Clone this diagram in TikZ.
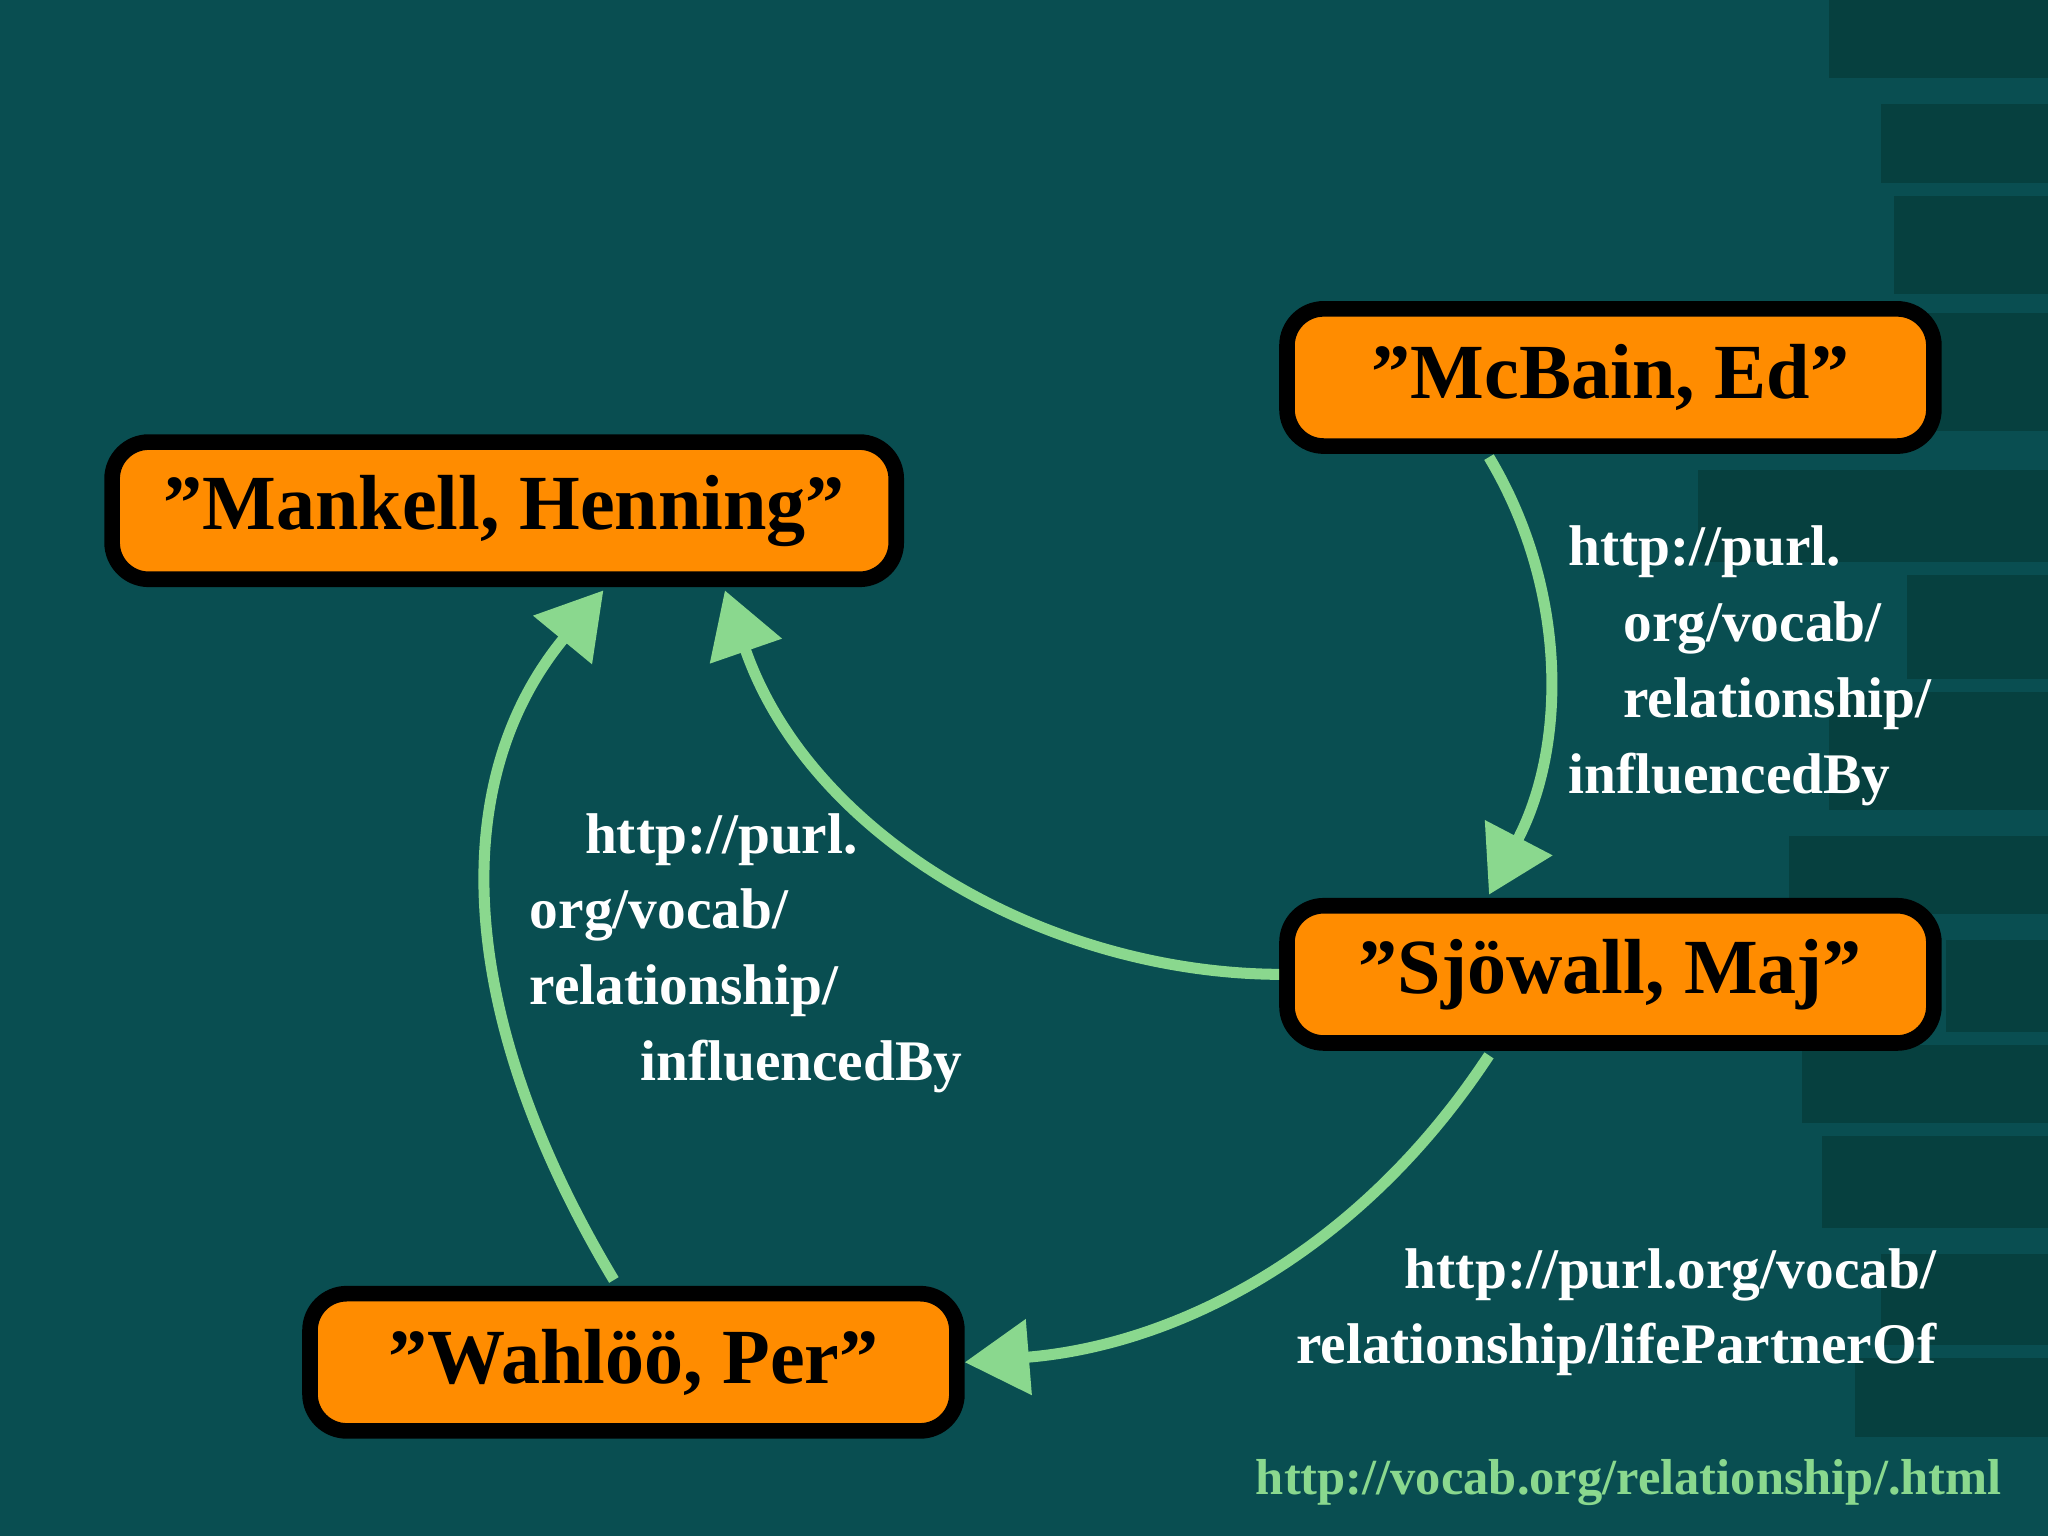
\documentclass[tikz,border=0pt]{standalone}
\usepackage{fontspec}
\setmainfont{Liberation Serif}
\usetikzlibrary{arrows.meta}
\definecolor{bg}{HTML}{094E51}
\definecolor{stripe}{HTML}{06403F}
\definecolor{orng}{HTML}{FF8C00}
\definecolor{grn}{HTML}{8AD88E}
\tikzset{
 lit/.style={draw=black,line width=3.4pt,fill=orng,rounded corners=8pt,minimum width=6.05cm,minimum height=1.05cm,font=\fontsize{17}{20}\selectfont\bfseries},
 rel/.style={draw=grn,line width=2.4pt,-{Triangle[length=14pt,width=16pt]}},
 lbl/.style={text=white,font=\fontsize{12.5}{16.5}\selectfont\bfseries,align=left,inner sep=0pt}
}
\begin{document}
\begin{tikzpicture}[x=0.01cm,y=-0.01cm]
\useasboundingbox (0,0) rectangle (1568,1176);
\fill[bg] (0,0) rectangle (1568,1176);
\foreach \a/\b/\c in {0/60/1400,80/140/1440,150/225/1450,240/330/1470,360/430/1300,440/520/1460,530/620/1400,640/700/1370,720/790/1490,800/860/1380,870/940/1395,960/1030/1440,1040/1100/1420}
 \fill[stripe] (\c,\a) rectangle (1568,\b);
\node[lit,minimum width=6.0cm] (mank) at (386,391) {"Mankell, Henning"};
\node[lit,minimum width=4.95cm] (mcb) at (1233,289) {"McBain, Ed"};
\node[lit,minimum width=4.95cm] (sjo) at (1233,746) {"Sjöwall, Maj"};
\node[lit,minimum width=4.95cm] (wah) at (485,1043) {"Wahlöö, Per"};
\coordinate (a1) at (1140,350); \coordinate (a2) at (1140,685);
\coordinate (m1) at (555,452); \coordinate (m2) at (462,452);
\coordinate (s1) at (1140,808); \coordinate (w1) at (470,980);
\draw[rel] (a1) .. controls (1200,450) and (1200,570) .. (a2);
\draw[rel] (sjo.west) .. controls (800,745) and (620,640) .. (m1);
\draw[rel] (w1) .. controls (350,780) and (340,600) .. (m2);
\draw[rel] (s1) .. controls (1040,960) and (900,1030) .. (wah.east);
\node[lbl,anchor=north west] (l1) at (1200,402) {http://purl.\\\hspace*{12pt}org/vocab/\\\hspace*{12pt}relationship/\\influencedBy};
\node[lbl,anchor=north west] (l2) at (405,622) {\hspace*{12pt}http://purl.\\org/vocab/\\relationship/\\\hspace*{24pt}influencedBy};
\node[lbl,anchor=north east,align=right] (l3) at (1483,955) {http://purl.org/vocab/\\relationship/lifePartnerOf};
\node[text=grn,font=\fontsize{11}{13}\selectfont\bfseries,anchor=east] (url) at (1545,1135) {http://vocab.org/relationship/.html};
\end{tikzpicture}
\end{document}
